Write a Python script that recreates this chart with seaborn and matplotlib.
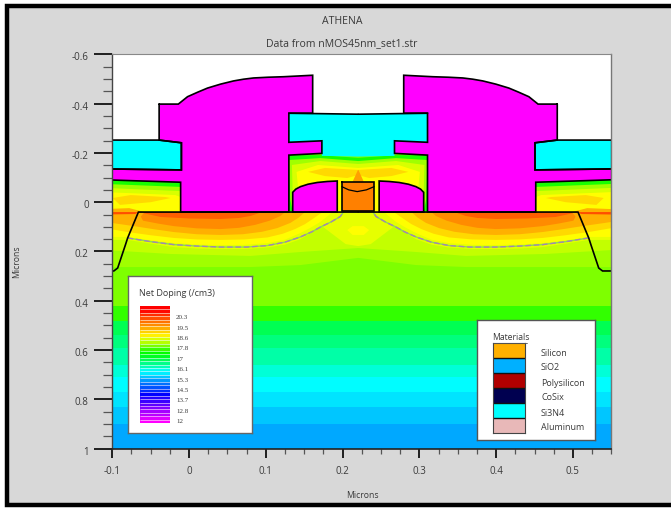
import numpy as np
import pandas as pd
import matplotlib
matplotlib.use("Agg")
import matplotlib.pyplot as plt
import seaborn as sns
from matplotlib.colors import LinearSegmentedColormap, ListedColormap
from matplotlib.patches import Rectangle
from matplotlib.transforms import ScaledTranslation

W, H = 671, 508

# doping bands in the substrate, depth in microns, level in log10(/cm3)
band_edges = [-0.2, 0.417, 0.478, 0.539, 0.592, 0.66, 0.713, 0.774, 0.835, 0.904, 1.0]
band_levels = [18.15, 17.75, 17.0, 16.75, 16.5, 16.25, 16.0, 15.8, 15.6, 15.4]

# doping zones, left half only, the right half is mirrored around the gate
well_a = [(0.22, 0.04), (-0.11, 0.04), (-0.11, 0.263), (0.08, 0.263), (0.145, 0.255), (0.22, 0.226)]
well_b = [(0.22, 0.04), (-0.11, 0.04), (-0.11, 0.194), (-0.024, 0.21), (0.08, 0.218), (0.145, 0.202), (0.22, 0.186)]
halo = [(0.22, 0.04), (0.19, 0.04), (0.171, 0.092), (0.204, 0.17), (0.22, 0.178)]
blob = [(0.22, 0.097), (0.213, 0.097), (0.206, 0.113), (0.213, 0.133), (0.22, 0.133)]
field_1 = [(0.22, -0.18), (0.171, -0.191), (0.13, -0.191), (0.13, 0.04), (0.22, 0.04)]
field_2 = [(0.22, -0.167), (0.171, -0.179), (0.13, -0.171), (0.132, -0.009), (0.135, 0.04), (0.22, 0.04)]
field_3 = [(0.22, -0.155), (0.171, -0.167), (0.134, -0.151), (0.135, -0.04), (0.14, 0.04), (0.22, 0.04)]
field_4 = [(0.22, -0.139), (0.168, -0.151), (0.14, -0.123), (0.145, 0.04), (0.22, 0.04)]
field_5 = [(0.22, -0.131), (0.177, -0.139), (0.155, -0.123), (0.177, -0.106), (0.206, -0.098), (0.22, -0.11)]
spike = [(0.22, -0.131), (0.213, -0.083), (0.22, -0.083)]
center_zones = [(well_a, 18.3), (well_b, 18.5), (halo, 18.65), (blob, 18.8),
                (field_1, 17.6), (field_2, 18.3), (field_3, 18.6), (field_4, 18.8),
                (field_5, 19.13), (spike, 19.6)]

cap_1 = [(-0.11, -0.091), (-0.011, -0.081), (-0.011, 0.045), (-0.11, 0.045)]
cap_2 = [(-0.11, -0.074), (-0.011, -0.062), (-0.011, 0.045), (-0.11, 0.045)]
cap_3 = [(-0.11, -0.058), (-0.011, -0.045), (-0.011, 0.045), (-0.11, 0.045)]
cap_4 = [(-0.11, -0.041), (-0.018, -0.029), (-0.011, -0.021), (-0.011, 0.045), (-0.11, 0.045)]
cap_5 = [(-0.0995, -0.017), (-0.076, -0.029), (-0.031, -0.021), (-0.024, -0.017), (-0.05, 0.0), (-0.09, 0.011)]
arc_1 = [(-0.11, 0.04), (0.201, 0.04), (0.171, 0.101), (0.158, 0.126), (0.145, 0.15), (0.125, 0.172), (0.102, 0.184),
         (0.072, 0.19), (0.041, 0.19), (0.01, 0.188), (-0.02, 0.182), (-0.05, 0.168), (-0.08, 0.153), (-0.11, 0.153)]
arc_2 = [(-0.11, 0.04), (0.187, 0.04), (0.171, 0.08), (0.158, 0.104), (0.145, 0.125), (0.125, 0.152), (0.102, 0.166),
         (0.072, 0.173), (0.041, 0.174), (0.01, 0.172), (-0.02, 0.166), (-0.05, 0.155), (-0.08, 0.141), (-0.11, 0.141)]
arc_3 = [(-0.11, 0.105), (-0.08, 0.121), (-0.05, 0.134), (-0.02, 0.145), (0.01, 0.151), (0.041, 0.153), (0.072, 0.151),
         (0.102, 0.143), (0.122, 0.128), (0.138, 0.109), (0.151, 0.089), (0.161, 0.068), (0.174, 0.04), (-0.11, 0.04)]
arc_4 = [(-0.11, 0.08), (-0.072, 0.097), (-0.045, 0.11), (-0.02, 0.121), (0.01, 0.13), (0.041, 0.133), (0.07, 0.13),
         (0.095, 0.12), (0.115, 0.105), (0.132, 0.084), (0.143, 0.062), (0.151, 0.04), (-0.11, 0.04)]
arc_5 = [(-0.066, 0.04), (-0.06, 0.075), (-0.04, 0.087), (-0.02, 0.097), (0.01, 0.106), (0.041, 0.109), (0.065, 0.104),
         (0.086, 0.092), (0.105, 0.075), (0.119, 0.056), (0.125, 0.04)]
arc_6 = [(-0.066, 0.04), (-0.037, 0.06), (0.0, 0.066), (0.041, 0.068), (0.065, 0.064), (0.08, 0.056), (0.095, 0.04)]
glow = [(-0.11, 0.028), (-0.078, 0.024), (-0.058, 0.04), (-0.066, 0.07), (-0.11, 0.06)]
streak = [(-0.11, 0.04), (-0.066, 0.04), (-0.07, 0.048), (-0.11, 0.05)]
side_zones = [(cap_1, 17.6), (cap_2, 18.3), (cap_3, 18.6), (cap_4, 18.8), (cap_5, 19.13),
              (arc_1, 18.65), (arc_2, 18.8), (arc_3, 19.13), (arc_4, 19.48), (arc_5, 19.8),
              (arc_6, 20.16), (glow, 19.48), (streak, 20.3)]

# material outlines
oxide_left = [(-0.039, -0.398), (-0.014, -0.398), (-0.002, -0.428), (0.011, -0.446), (0.024, -0.463), (0.041, -0.479),
              (0.058, -0.492), (0.071, -0.499), (0.084, -0.504), (0.103, -0.507), (0.123, -0.509), (0.161, -0.515),
              (0.161, -0.361), (0.13, -0.361), (0.13, -0.243), (0.173, -0.249), (0.173, -0.198), (0.13, -0.191),
              (0.13, 0.04), (-0.011, 0.04), (-0.011, -0.081), (-0.072, -0.087), (-0.11, -0.091), (-0.11, -0.135),
              (-0.01, -0.131), (-0.01, -0.241), (-0.039, -0.252)]
nitride_left = [(-0.11, -0.252), (-0.039, -0.252), (-0.01, -0.241), (-0.01, -0.131), (-0.11, -0.135)]
nitride_center = [(0.22, -0.357), (0.13, -0.361), (0.13, -0.243), (0.173, -0.249), (0.173, -0.188), (0.22, -0.185)]
spacer_left = [(0.135, 0.04), (0.135, -0.04), (0.139, -0.053), (0.145, -0.063), (0.155, -0.073), (0.167, -0.08),
               (0.18, -0.084), (0.193, -0.086), (0.193, 0.04)]
gate_box = [(0.199, -0.083), (0.241, -0.083), (0.241, 0.036), (0.199, 0.036)]
gate_curve = [(0.199, -0.063), (0.208, -0.05), (0.219, -0.043), (0.231, -0.05), (0.241, -0.063)]
silicon_left = [(0.22, 0.04), (-0.066, 0.04), (-0.08, 0.145), (-0.083, 0.174), (-0.093, 0.267), (-0.098, 0.279), (-0.11, 0.279)]
junction_left = [(-0.08, 0.145), (-0.05, 0.16), (-0.02, 0.172), (0.01, 0.178), (0.041, 0.182), (0.075, 0.182), (0.102, 0.176),
                 (0.125, 0.162), (0.145, 0.141), (0.16, 0.12), (0.171, 0.101), (0.185, 0.08), (0.197, 0.058), (0.201, 0.04)]

x_ticks = [-0.1, 0, 0.1, 0.2, 0.3, 0.4, 0.5]
x_tick_labels = ["-0.1", "0", "0.1", "0.2", "0.3", "0.4", "0.5"]
y_ticks = [-0.6, -0.4, -0.2, 0, 0.2, 0.4, 0.6, 0.8, 1]
y_tick_labels = ["-0.6", "-0.4", "-0.2", "0", "0.2", "0.4", "0.6", "0.8", "1"]

legend_stripes = [21.1, 20.9, 20.6, 20.3, 20.0, 19.8, 19.5, 19.2, 18.9, 18.6, 18.4, 18.1, 17.8, 17.5, 17.3, 17.0, 16.7,
                  16.4, 16.1, 15.9, 15.6, 15.3, 15.0, 14.8, 14.5, 14.2, 13.9, 13.7, 13.4, 13.1, 12.8, 12.6, 12.3, 12.0]
legend_labels = ["20.3", "19.5", "18.6", "17.8", "17", "16.1", "15.3", "14.5", "13.7", "12.8", "12"]
material_names = ["Silicon", "SiO2", "Polysilicon", "CoSix", "Si3N4", "Aluminum"]
material_colors = ["#ffb000", "#00b0ff", "#b00000", "#000050", "#00ffff", "#e8b8b8"]

MIRROR = 0.4406
VMIN, VMAX = 12, 21
FONT = "Open Sans"
TEXT = "#3a3a3a"

sns.set_theme(style="white")
plt.rcParams["font.family"] = FONT

cmap = LinearSegmentedColormap.from_list("doping", [
    (0, "#ff00ff"), (2.2 / 9, "#0000ff"), (4 / 9, "#00ffff"),
    (5.5 / 9, "#00ff00"), (6.8 / 9, "#ffff00"), (1, "#ff0000")])


def level_color(level):
    return cmap((level - VMIN) / (VMAX - VMIN))


def box(left, top, right, bottom):
    # pixel box to figure fractions
    return [left / W, 1 - bottom / H, (right - left) / W, (bottom - top) / H]


def put_text(x, y, s, **kw):
    kw.setdefault("color", TEXT)
    kw.setdefault("va", "center")
    fig.text(x / W, 1 - y / H, s, **kw)


def mirrored(points):
    return [(MIRROR - x, y) for x, y in points]


def both_sides(points):
    # left path that starts and ends on the centre line, closed by its mirror image
    return points + mirrored(points)[::-1]


def fill(points, color, **kw):
    xs, ys = zip(*points)
    ax.fill(xs, ys, color=color, linewidth=0, **kw)


def outline(points, closed=True):
    xs, ys = zip(*(points + points[:1] if closed else points))
    ax.plot(xs, ys, color="black", lw=1.2, solid_joinstyle="miter")


fig = plt.figure(figsize=(W / 100, H / 100), dpi=100, facecolor="white")
fig.add_artist(Rectangle((6.5 / W, 1 - 505 / H), 680 / W, 499 / H, transform=fig.transFigure,
                         facecolor="#d8d8d8", edgecolor="black", linewidth=3.2, zorder=-1))

# substrate bands as a heatmap
depth_rows = np.arange(-0.595, 1.0, 0.01)
row_band = np.searchsorted(band_edges, depth_rows) - 1
row_levels = [band_levels[i] if i >= 0 else np.nan for i in row_band]
bulk = pd.DataFrame({"bulk": row_levels}, index=depth_rows)

plot_box = box(112.3, 54.3, 611.3, 448.7)
ax_field = fig.add_axes(plot_box, facecolor="white")
sns.heatmap(bulk, ax=ax_field, cmap=cmap, vmin=VMIN, vmax=VMAX, cbar=False,
            mask=bulk.isna(), xticklabels=False, yticklabels=False)
ax_field.set_xlabel("")
ax_field.set_ylabel("")

# everything else on a transparent axes in microns
ax = fig.add_axes(plot_box, facecolor="none")
ax.set_xlim(-0.1, 0.55)
ax.set_ylim(1, -0.6)

for points, level in center_zones:
    fill(both_sides(points), level_color(level))
for points, level in side_zones:
    fill(points, level_color(level))
    fill(mirrored(points), level_color(level))

xs, ys = zip(*junction_left)
for path_x in (xs, [MIRROR - x for x in xs]):
    ax.plot(path_x, ys, color="#88dd55", lw=1.0)
    ax.plot(path_x, ys, color="#a484b4", lw=1.0, dashes=(4, 2))

fill(both_sides(nitride_center), "#00ffff")
ax.plot(*zip(*nitride_center[:2]), color="black", lw=1.2)
ax.plot(*zip(*mirrored(nitride_center[:2])), color="black", lw=1.2)
for shape in (nitride_left, mirrored(nitride_left)):
    fill(shape, "#00ffff")
    outline(shape)
for shape in (oxide_left, mirrored(oxide_left), spacer_left, mirrored(spacer_left)):
    fill(shape, "#ff00ff")
    outline(shape)
fill(gate_box, "#ff8000")
outline(gate_box)
ax.plot(*zip(*gate_curve), color="black", lw=0.9)
outline(silicon_left, closed=False)
outline(mirrored(silicon_left), closed=False)

ax.set_xticks(x_ticks, x_tick_labels)
ax.set_yticks(y_ticks, y_tick_labels)
ax.set_xticks([-0.075, -0.05, -0.025, 0.025, 0.05, 0.075, 0.125, 0.15, 0.175, 0.225, 0.25, 0.275, 0.325, 0.35, 0.375,
               0.425, 0.45, 0.475, 0.525, 0.55], minor=True)
ax.set_yticks([-0.55, -0.5, -0.45, -0.35, -0.3, -0.25, -0.15, -0.1, -0.05, 0.05, 0.1, 0.15, 0.25, 0.3, 0.35, 0.45, 0.5,
               0.55, 0.65, 0.7, 0.75, 0.85, 0.9, 0.95], minor=True)
ax.tick_params(axis="x", which="major", length=6.5, width=1.2, color="black", labelsize=7, labelcolor=TEXT, pad=6, bottom=True)
ax.tick_params(axis="x", which="minor", length=3.6, width=0.9, color="#555555", bottom=True)
ax.tick_params(axis="y", which="major", length=13, width=1.2, color="black", labelsize=7, labelcolor=TEXT, pad=4, left=True)
ax.tick_params(axis="y", which="minor", length=6.5, width=0.9, color="#555555", left=True)
for label in ax.get_yticklabels():
    label.set_transform(label.get_transform() + ScaledTranslation(0, -2 / 100, fig.dpi_scale_trans))
for side, color, width in (("top", "#888888", 0.8), ("right", "#777777", 1.0), ("left", "#444444", 1.0), ("bottom", "#222222", 1.2)):
    ax.spines[side].set_visible(True)
    ax.spines[side].set_color(color)
    ax.spines[side].set_linewidth(width)

put_text(342, 22, "ATHENA", ha="center", fontsize=7.6)
put_text(342, 44, "Data from nMOS45nm_set1.str", ha="center", fontsize=7.6)
put_text(362, 496, "Microns", ha="center", fontsize=6.2)
put_text(17, 262, "Microns", ha="center", rotation=90, fontsize=6.2)

# net doping legend
ax_box = fig.add_axes(box(127.7, 276, 251.7, 433.3), facecolor="white", xticks=[], yticks=[])
for spine in ax_box.spines.values():
    spine.set_visible(True)
    spine.set_color("#666666")
    spine.set_linewidth(1.0)
put_text(139, 294, "Net Doping (/cm3)", fontsize=6.5)
ax_stripes = fig.add_axes(box(139.7, 305.7, 170, 423.3))
sns.heatmap(pd.DataFrame({"level": legend_stripes}), ax=ax_stripes, cmap=cmap, vmin=VMIN, vmax=VMAX, cbar=False,
            xticklabels=False, yticklabels=False)
ax_stripes.hlines(range(1, len(legend_stripes)), 0, 1, color="white", lw=0.6, alpha=0.65)
for i, label in enumerate(legend_labels):
    put_text(176, 317.7 + i * 10.4, label, fontsize=5, family="Liberation Serif")

# materials legend
ax_box2 = fig.add_axes(box(476.7, 320.3, 595, 440), facecolor="white", xticks=[], yticks=[])
for spine in ax_box2.spines.values():
    spine.set_visible(True)
    spine.set_color("#555555")
    spine.set_linewidth(1.0)
put_text(492, 337, "Materials", fontsize=6.2)
fig.add_artist(plt.Line2D([493 / W, 527 / W], [1 - 342.5 / H, 1 - 342.5 / H], color="#555555", lw=0.6))
ax_mat = fig.add_axes(box(493, 343.3, 525.3, 433.3))
sns.heatmap(pd.DataFrame({"material": range(len(material_names))}), ax=ax_mat, cmap=ListedColormap(material_colors),
            cbar=False, xticklabels=False, yticklabels=False)
ax_mat.hlines(range(1, len(material_names)), 0, 1, color="#111111", lw=1.0)
for spine in ax_mat.spines.values():
    spine.set_visible(True)
    spine.set_color("#444444")
    spine.set_linewidth(0.8)
for i, name in enumerate(material_names):
    put_text(541, 353 + i * 15, name, fontsize=6.5)

fig.savefig("out.png", dpi=100)
plt.close(fig)
